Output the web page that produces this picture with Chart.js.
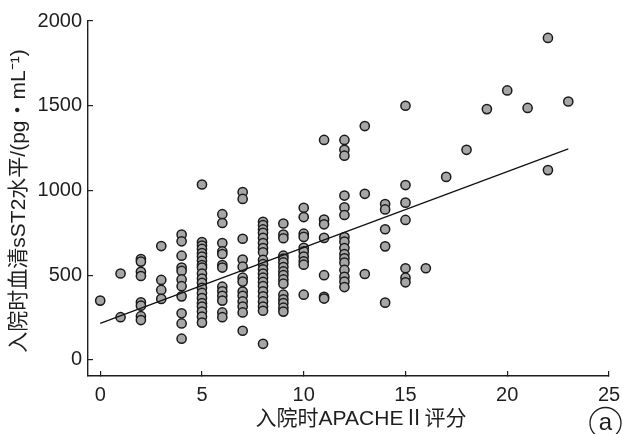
<!DOCTYPE html>
<html>
<head>
<meta charset="utf-8">
<script src="https://cdn.jsdelivr.net/npm/chart.js@4.4.1/dist/chart.umd.min.js"></script>
<style>
  html, body { margin: 0; padding: 0; background: #fff; }
  #caixa { width: 623px; height: 434px; }
</style>
</head>
<body>
<div id="caixa"><canvas id="grafico"></canvas></div>
<script>
// APACHE II score (x) and the sST2 values read for each score
const escoresApache = [0, 1, 2, 3, 4, 5, 6, 7, 8, 9, 10, 11, 12, 13, 14, 15, 16, 17, 18, 19, 20, 21, 22, 23];
const valoresSst2 = [
  [350],
  [510, 252],
  [595, 580, 520, 495, 340, 320, 258, 235],
  [672, 472, 413, 360],
  [740, 700, 615, 545, 525, 475, 435, 375, 275, 215, 125],
  [1035, 695, 675, 655, 630, 610, 585, 560, 545, 510, 480, 455, 425, 395, 365, 335, 315, 285, 255, 220],
  [860, 808, 690, 640, 625, 560, 545, 432, 405, 378, 350, 280, 252],
  [990, 950, 715, 592, 550, 485, 462, 403, 378, 345, 315, 280, 172],
  [815, 795, 770, 750, 720, 690, 660, 635, 590, 565, 535, 510, 485, 460, 435, 405, 375, 345, 315, 290, 95],
  [805, 740, 718, 615, 598, 575, 548, 522, 500, 475, 450, 385, 358, 335, 308, 285],
  [898, 843, 745, 726, 662, 640, 610, 582, 562, 385],
  [1298, 828, 800, 720, 500, 372, 362],
  [1298, 1240, 1205, 970, 900, 855, 725, 698, 660, 625, 600, 574, 531, 490, 462, 430],
  [1380, 980, 507],
  [920, 888, 771, 670, 338],
  [1500, 1032, 928, 826, 541, 485, 458],
  [541],
  [1080],
  [1240],
  [1480],
  [1590],
  [1487],
  [1900, 1120],
  [1525]
];

// regression line ends
const retaX = [0, 23];
const retaY = [216, 1245];

const ticksX = [0, 5, 10, 15, 20, 25];
const ticksY = [0, 500, 1000, 1500, 2000];

const tituloX = "入院时APACHEⅡ评分";
const tituloY = "入院时血清sST2水平/(pg・mL⁻¹)";
const rotulo = "a";

const fonte = '"Liberation Sans", "Noto Sans CJK SC", Arial, sans-serif';
const corTexto = "#1e1e1e";

var pontos = [];
for (i = 0; i < escoresApache.length; i++) {
  for (j = 0; j < valoresSst2[i].length; j++) {
    pontos.push({ x: escoresApache[i], y: valoresSst2[i][j] });
  }
}

var reta = [];
for (i = 0; i < retaX.length; i++) {
  reta.push({ x: retaX[i], y: retaY[i] });
}

// axis titles and the (a) mark
const textos = {
  id: "textos",
  afterDraw(chart) {
    const ctx = chart.ctx;
    ctx.save();
    ctx.fillStyle = corTexto;
    ctx.font = "21px " + fonte;
    ctx.textAlign = "center";
    ctx.textBaseline = "middle";
    ctx.fillText(tituloX, 361, 419);

    ctx.translate(19, 201);
    ctx.rotate(-Math.PI / 2);
    ctx.fillText(tituloY, 0, 0);
    ctx.restore();

    ctx.save();
    ctx.strokeStyle = corTexto;
    ctx.lineWidth = 1.3;
    ctx.beginPath();
    ctx.arc(605.5, 423, 15.5, 0, Math.PI * 2);
    ctx.stroke();
    ctx.fillStyle = corTexto;
    ctx.font = "24px " + fonte;
    ctx.textAlign = "center";
    ctx.textBaseline = "middle";
    ctx.fillText(rotulo, 605.5, 423);
    ctx.restore();
  }
};

const config = {
  type: "scatter",
  data: {
    datasets: [{
      data: pontos,
      pointRadius: 4.6,
      pointBorderWidth: 1.5,
      pointBackgroundColor: "#a6a6a6",
      pointBorderColor: "#1a1a1a",
      order: 2
    }, {
      data: reta,
      showLine: true,
      pointRadius: 0,
      borderColor: "#111",
      borderWidth: 1.3,
      order: 1
    }]
  },
  options: {
    responsive: true,
    maintainAspectRatio: false,
    animation: false,
    devicePixelRatio: 1,
    layout: { padding: { top: 21, right: 14, bottom: 0, left: 0 } },
    plugins: { legend: { display: false }, tooltip: { enabled: false } },
    scales: {
      x: {
        type: "linear",
        min: -0.6,
        max: 25,
        afterBuildTicks: (s) => { s.ticks = ticksX.map(v => ({ value: v })); },
        afterFit: (s) => { s.height = 58; s.paddingLeft = 0; s.paddingRight = 0; },
        grid: { drawOnChartArea: false, tickLength: -5, color: "#1e1e1e", lineWidth: 1.2 },
        border: { color: "#1e1e1e", width: 1.4 },
        ticks: { color: corTexto, padding: 12, font: { size: 20, family: fonte }, callback: (v) => String(v) }
      },
      y: {
        type: "linear",
        min: -95,
        max: 2000,
        afterBuildTicks: (s) => { s.ticks = ticksY.map(v => ({ value: v })); },
        afterFit: (s) => { s.width = 88; s.paddingTop = 0; s.paddingBottom = 0; },
        grid: { drawOnChartArea: false, tickLength: -5, color: "#1e1e1e", lineWidth: 1.2 },
        border: { color: "#1e1e1e", width: 1.4 },
        ticks: { color: corTexto, padding: 11, font: { size: 20, family: fonte }, callback: (v) => String(v) }
      }
    }
  },
  plugins: [textos]
};

const grafico = new Chart(document.getElementById("grafico").getContext("2d"), config);
</script>
</body>
</html>
